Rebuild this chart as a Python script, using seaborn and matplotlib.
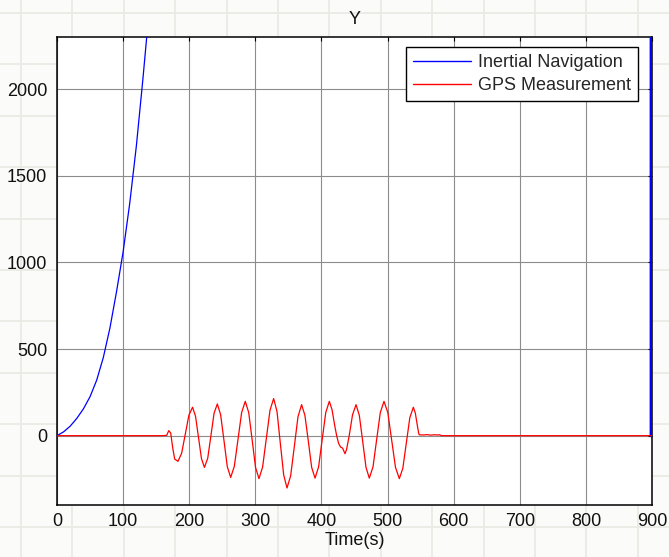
import numpy as np
import pandas as pd
import matplotlib
matplotlib.use("Agg")
import matplotlib.pyplot as plt
from matplotlib.lines import Line2D
import seaborn as sns

# ---- data -------------------------------------------------------------
ins_time = [0, 10, 20, 30, 40, 50, 60, 70, 80, 90, 100, 110, 120, 130, 140,
            898.6, 898.7]
ins_y = [0, 22, 55, 100, 155, 225, 320, 450, 620, 830, 1060, 1340, 1670,
         2060, 2480, 1.0e6, 0]

gps_time = [0, 160, 166, 169, 172, 175, 178, 183, 188.5, 194, 199.5, 205,
            209.5, 214, 218.5, 223, 228, 232.8, 237.6, 242.5, 247.5, 252.6,
            257.6, 262.7, 268.2, 273.8, 279.3, 284.8, 290, 295.2, 300.3,
            305.5, 311, 316.6, 322.2, 327.7, 332.8, 337.8, 342.9, 347.9,
            353.4, 359, 364.5, 370, 375, 380.2, 385.2, 390.3, 395.7, 401.1,
            406.5, 411.9, 416, 420, 423, 426, 429, 432, 435.6, 438, 442, 447,
            452.3, 457.3, 462.4, 467.4, 472.4, 478, 483.5, 489, 494.6, 500.4,
            506.2, 512, 517.8, 523.1, 528.4, 533.7, 539, 542, 545, 547, 548,
            555, 560, 565, 570, 575, 579, 581, 900]
gps_y = [0, 0, 2, 29, 15, -70, -135, -148, -102, 8, 118, 164, 113, -9, -132,
         -183, -130, 0, 130, 183, 121, -29, -179, -241, -177, -21, 134, 198,
         133, -25, -183, -248, -181, -17, 147, 214, 139, -44, -227, -302,
         -232, -62, 109, 179, 117, -33, -183, -245, -180, -23, 133, 198, 150,
         60, 0, -45, -66, -72, -104, -80, 0, 120, 179, 117, -33, -183, -245,
         -180, -23, 133, 198, 133, -25, -183, -248, -188, -42, 104, 164, 130,
         60, 15, 5, 4, 6, 3, 5, 4, 5, 0, 0]

series_names = ["Inertial Navigation", "GPS Measurement"]
series_colors = ["#0000ff", "#ff0000"]
x_ticks = list(range(0, 901, 100))
y_ticks = list(range(0, 2001, 500))

df = pd.concat([
    pd.DataFrame({"t": ins_time, "y": ins_y, "series": series_names[0]}),
    pd.DataFrame({"t": gps_time, "y": gps_y, "series": series_names[1]}),
], ignore_index=True)

# ---- style ------------------------------------------------------------
sns.set_theme(style="white")
plt.rcParams["font.family"] = ["Liberation Sans", "DejaVu Sans"]

W, H = 669, 557
fig = plt.figure(figsize=(W / 100, H / 100), dpi=100, facecolor="#fbfbf9")

# faint paper grid behind everything
for xp in np.arange(21, W, 51.4):
    fig.add_artist(Line2D([xp / W, xp / W], [0, 1], transform=fig.transFigure,
                          color="#ebebe5", lw=1.3, zorder=-10))
for yp in np.arange(13, H, 51.4):
    fig.add_artist(Line2D([0, 1], [1 - yp / H, 1 - yp / H],
                          transform=fig.transFigure,
                          color="#ebebe5", lw=1.3, zorder=-10))

ax = fig.add_axes([57 / W, (H - 505) / H, (652 - 57) / W, (505 - 37) / H])
ax.set_facecolor("white")

sns.lineplot(data=df, x="t", y="y", hue="series", hue_order=series_names,
             palette=series_colors, estimator=None, sort=False, lw=0.9,
             ax=ax)
lines = ax.get_lines()[:2]
lines[0].set_zorder(3)
lines[1].set_zorder(4)

# the right-edge jump of the inertial solution is drawn a little heavier
ax.plot(ins_time[-2:], ins_y[-2:], color=series_colors[0], lw=2.2, zorder=3)

ax.set_xlim(0, 900)
ax.set_ylim(-400, 2300)
ax.set_xticks(x_ticks)
ax.set_yticks(y_ticks)
ax.grid(True, color="#8c8c8c", lw=0.8)
ax.set_axisbelow(True)

for sp in ax.spines.values():
    sp.set_visible(True)
    sp.set_color("black")
    sp.set_linewidth(1.1)

ax.tick_params(direction="in", top=True, right=True, length=3, width=0.8,
               color="black", labelsize=13, labelcolor="#111111")
ax.tick_params(axis="y", pad=7)
ax.tick_params(axis="x", pad=6)

ax.set_title("Y", fontsize=13, pad=9, color="#111111")
ax.set_xlabel("Time(s)", fontsize=13, labelpad=1, color="#111111")
ax.set_ylabel("")

leg = ax.legend(handles=lines, labels=series_names,
                loc="upper right", bbox_to_anchor=(0.9765, 0.9786),
                borderaxespad=0, fontsize=13, frameon=True, fancybox=False,
                handlelength=3.2, handletextpad=0.4, labelspacing=0.36,
                borderpad=0.38)
leg.set_zorder(6)
leg.get_frame().set_edgecolor("black")
leg.get_frame().set_linewidth(1.0)
leg.get_frame().set_facecolor("white")
leg.get_frame().set_alpha(1)
for h in leg.get_lines():
    h.set_linewidth(1.0)

fig.savefig("out.png", dpi=100, facecolor=fig.get_facecolor())
